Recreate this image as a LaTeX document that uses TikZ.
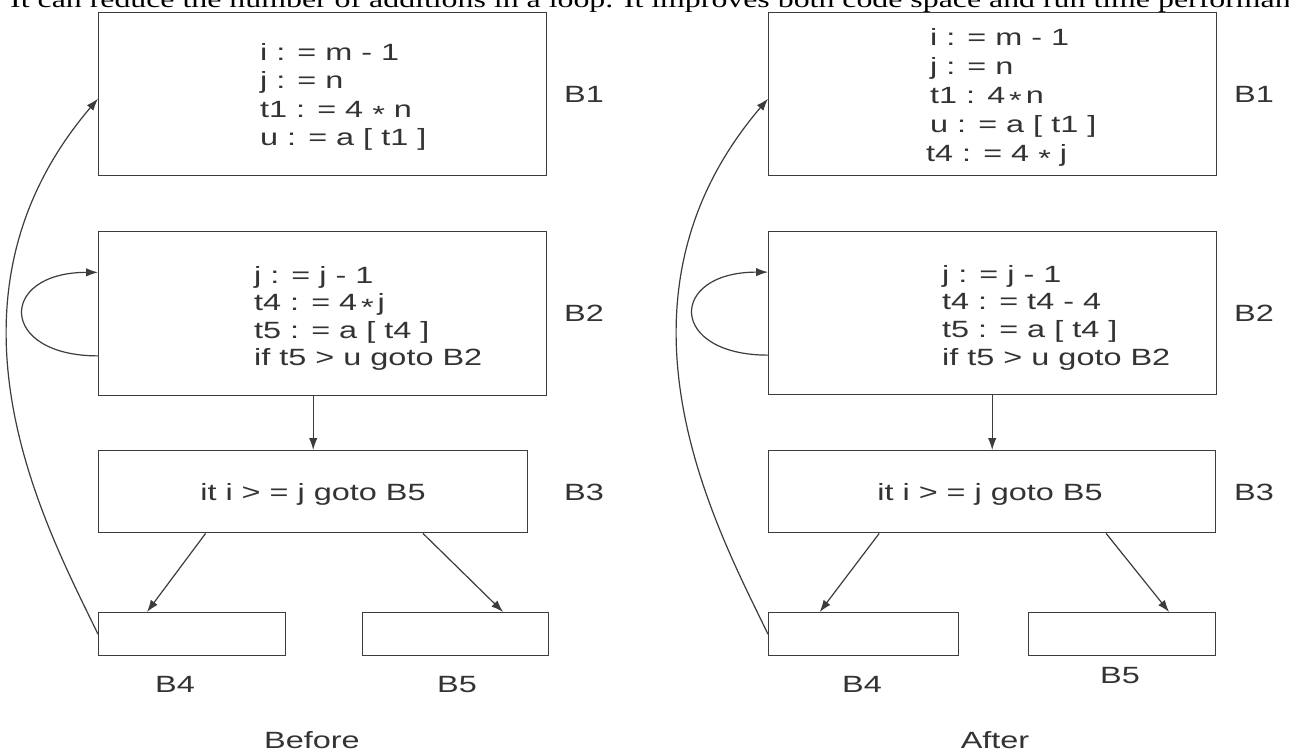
\documentclass[tikz,border=0pt]{standalone}
\usepackage{fontspec}
\usetikzlibrary{arrows.meta,calc}
\newfontfamily\diagfont[FakeStretch=1.38]{Liberation Sans}
\newfontfamily\introfont[FakeStretch=1.355]{Liberation Serif}
\definecolor{ink}{HTML}{333333}
\definecolor{edge}{HTML}{3C3C3C}
% left-aligned code lines, first baseline = node baseline
\newcommand\codeblock[1]{\begin{tabular}[t]{@{}l@{}}#1\end{tabular}}
% centred multiplication star
\newcommand\mul{\raisebox{-.22em}{*}}

\begin{document}
\begin{tikzpicture}[x=1pt,y=-1pt,
  block/.style={draw=edge, line width=1.4pt, inner sep=0pt, anchor=north west},
  code/.style={font=\diagfont\fontsize{23.5pt}{#1}\selectfont, text=ink, inner sep=0pt, anchor=base west},
  code/.default={28.5pt},
  tag/.style={font=\diagfont\fontsize{23.5pt}{28pt}\selectfont, text=ink, inner sep=0pt, anchor=base},
  conn/.style={draw=edge, line width=1.2pt, -{Latex[length=12pt,width=8.5pt]}},
]
\useasboundingbox (0,0) rectangle (1289,753);
\fill[white] (0,0) rectangle (1289,753);

% running text of the page, cut by the page edges
\node[font=\introfont\fontsize{23.5pt}{28pt}\selectfont, inner sep=0pt, anchor=base west] (intro) at (10,7)
  {It can reduce the number of additions in a loop. It improves both code space and run time performance.};

% ---------------- Before ----------------
\node[block, minimum width=448pt, minimum height=163pt] (lb1) at (98,12) {};
\node[block, minimum width=448pt, minimum height=164pt] (lb2) at (98,231) {};
\node[block, minimum width=429pt, minimum height=82pt]  (lb3) at (98,450) {};
\node[block, minimum width=187pt, minimum height=43pt]  (lb4) at (98,612) {};
\node[block, minimum width=186pt, minimum height=43pt]  (lb5) at (362,612) {};

\node[code] (lt1) at (260,60) {\codeblock{i : = m - 1\\ j : = n\\ t1 : = 4 \mul{} n\\ u : = a [ t1 ]}};
\node[code=27.5pt] (lt2) at (254,283) {\codeblock{j : = j - 1\\ t4 : = 4\,\mul\,j\\ t5 : = a [ t4 ]\\ if t5 > u goto B2}};
\node[tag] (lt3) at (313,500.5) {it i > = j goto B5};

\node[tag] (ll1) at (584,102.5) {B1};
\node[tag] (ll2) at (584,321.5) {B2};
\node[tag] (ll3) at (584,500) {B3};
\node[tag] (ll4) at (175,692) {B4};
\node[tag] (ll5) at (457,692) {B5};
\node[tag] (lcap) at (312,748) {Before};

\draw[conn] ($(lb2.north west)!0.755!(lb2.south west)$) .. controls +(-100,0) and +(-100,0) .. ($(lb2.north west)!0.25!(lb2.south west)$);
\draw[conn] (lb2.south -| lb3.north) -- (lb3.north);
\draw[conn] ($(lb3.south west)!0.25!(lb3.south east)$) -- ($(lb4.north west)!0.26!(lb4.north east)$);
\draw[conn] ($(lb3.south west)!0.755!(lb3.south east)$) -- ($(lb5.north west)!0.753!(lb5.north east)$);
\draw[conn] (lb4.west) .. controls +(-50,-104) and +(-175,205) .. ($(lb1.west)+(0,4.5)$);

% ---------------- After ----------------
\node[block, minimum width=448pt, minimum height=163pt] (rb1) at (768,12) {};
\node[block, minimum width=448pt, minimum height=163pt] (rb2) at (768,231) {};
\node[block, minimum width=447pt, minimum height=82pt]  (rb3) at (768,450) {};
\node[block, minimum width=190pt, minimum height=43pt]  (rb4) at (768,612) {};
\node[block, minimum width=187pt, minimum height=43pt]  (rb5) at (1028,612) {};

\node[code=29pt] (rt1) at (930,45.5) {\codeblock{i : = m - 1\\ j : = n\\ t1 : 4\,\mul\,n\\ u : = a [ t1 ]\\ \hspace{-4pt}t4 : = 4 \mul{} j}};
\node[code=27.8pt] (rt2) at (942,282) {\codeblock{j : = j - 1\\ t4 : = t4 - 4\\ t5 : = a [ t4 ]\\ if t5 > u goto B2}};
\node[tag] (rt3) at (990,500.5) {it i > = j goto B5};

\node[tag] (rl1) at (1254,102.5) {B1};
\node[tag] (rl2) at (1254,321.5) {B2};
\node[tag] (rl3) at (1254,500) {B3};
\node[tag] (rl4) at (862,692) {B4};
\node[tag] (rl5) at (1120,683) {B5};
\node[tag] (rcap) at (995,748) {After};

\draw[conn] ($(rb2.north west)!0.755!(rb2.south west)$) .. controls +(-100,0) and +(-100,0) .. ($(rb2.north west)!0.25!(rb2.south west)$);
\draw[conn] (rb2.south -| rb3.north) -- (rb3.north);
\draw[conn] ($(rb3.south west)!0.248!(rb3.south east)$) -- ($(rb4.north west)!0.27!(rb4.north east)$);
\draw[conn] ($(rb3.south west)!0.754!(rb3.south east)$) -- ($(rb5.north west)!0.749!(rb5.north east)$);
\draw[conn] (rb4.west) .. controls +(-50,-104) and +(-175,205) .. ($(rb1.west)+(0,4.5)$);
\end{tikzpicture}
\end{document}
